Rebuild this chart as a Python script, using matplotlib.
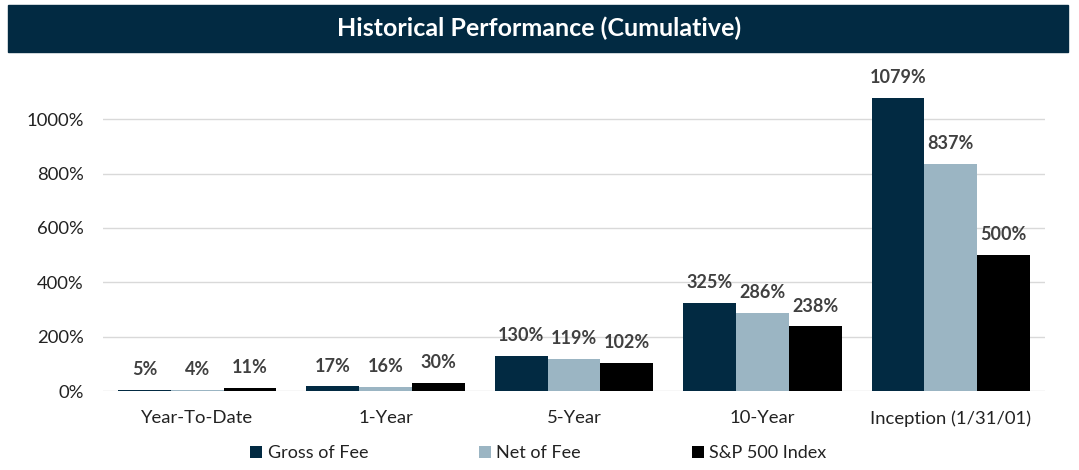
import matplotlib
matplotlib.use("Agg")
import matplotlib.pyplot as plt
from matplotlib.patches import Rectangle
import numpy as np

plt.rcParams['font.family'] = ['Lato', 'DejaVu Sans']

# data
periods = ["Year-To-Date", "1-Year", "5-Year", "10-Year", "Inception (1/31/01)"]
gross = [5, 17, 130, 325, 1079]
net = [4, 16, 119, 286, 837]
sp500 = [11, 30, 102, 238, 500]
series_names = ["Gross of Fee", "Net of Fee", "S&P 500 Index"]
colors = ["#022A42", "#9BB5C3", "#000000"]
yticks = [0, 200, 400, 600, 800, 1000]

fig = plt.figure(figsize=(10.79, 4.70), dpi=100)

# title banner
fig.patches.append(Rectangle((8/1079, 1 - 52/470), 1060/1079, 47/470,
                             transform=fig.transFigure, color="#022A42", zorder=0))
fig.text(0.5, 1 - 28/470, "Historical Performance (Cumulative)", color="white",
         fontsize=18, fontweight="bold", ha="center", va="center")

ax = fig.add_axes([103/1079, 79/470, 942/1079, 326/470])

x = np.arange(len(periods))
w = 0.28
for i, (vals, name, col) in enumerate(zip([gross, net, sp500], series_names, colors)):
    pos = x + (i - 1) * w
    ax.bar(pos, vals, width=w, color=col, label=name, zorder=3)
    for px, v in zip(pos, vals):
        ax.annotate(f"{v}%", (px, v), xytext=(0, 8.5), textcoords="offset points",
                    ha="center", va="bottom", fontsize=13, fontweight="bold",
                    color="#404040")

ax.set_xlim(-0.5, len(periods) - 0.5)
ax.set_ylim(0, 1200)
ax.set_yticks(yticks)
ax.set_yticklabels([f"{t}%" for t in yticks])
ax.set_xticks(x)
ax.set_xticklabels(periods)
ax.tick_params(axis="both", length=0, labelsize=13.3, colors="#222222")
ax.tick_params(axis="x", pad=14)
ax.tick_params(axis="y", pad=14)
ax.grid(axis="y", color="#D9D9D9", linewidth=1, zorder=0)
for s in ax.spines.values():
    s.set_visible(False)

leg = fig.legend(loc="center", bbox_to_anchor=(0.499, 1 - 453/470), ncol=3,
                 frameon=False, fontsize=13, handlelength=0.65, handleheight=0.65,
                 handletextpad=0.3, columnspacing=6.15)
for t in leg.get_texts():
    t.set_color("#222222")

fig.savefig("out.png", dpi=100)
